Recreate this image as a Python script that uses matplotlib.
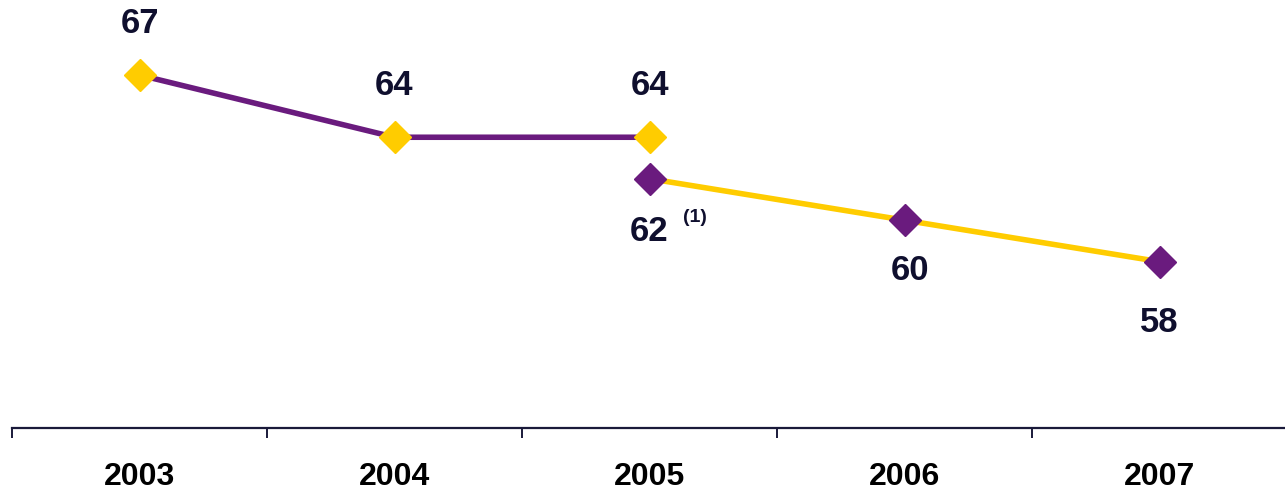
import matplotlib
matplotlib.use("Agg")
import matplotlib.pyplot as plt

years = ["2003", "2004", "2005", "2006", "2007"]
old_basis = [67, 64, 64]        # 2003-2005
new_basis = [62, 60, 58]        # 2005-2007
old_idx = [0, 1, 2]
new_idx = [2, 3, 4]

PURPLE = "#6A1B7E"
YELLOW = "#FFCC00"
NAVY = "#0F0F2E"

plt.rcParams["font.family"] = ["Liberation Sans", "DejaVu Sans"]

fig = plt.figure(figsize=(12.85, 4.92), dpi=100)
ax = fig.add_axes([12 / 1285, 64.5 / 492, 1275 / 1285, 427.5 / 492])

ax.plot(old_idx, old_basis, color=PURPLE, lw=4, marker="D", ms=16,
        mfc=YELLOW, mec=YELLOW, zorder=3, solid_capstyle="butt")
ax.plot(new_idx, new_basis, color=YELLOW, lw=4, marker="D", ms=16,
        mfc=PURPLE, mec=PURPLE, zorder=3, solid_capstyle="butt")

ax.set_xlim(-0.5, 4.5)
ax.set_ylim(50, 70.62)

# value labels: above for the old basis, below for the new basis
for x, v in zip(old_idx, old_basis):
    ax.annotate(str(v), (x, v), xytext=(0, 37), textcoords="offset points",
                ha="center", va="center", fontsize=25, fontweight="bold", color=NAVY)
offsets = [(0, -38), (4, -36), (0, -44)]
for x, v, off in zip(new_idx, new_basis, offsets):
    ax.annotate(str(v), (x, v), xytext=off, textcoords="offset points",
                ha="center", va="center", fontsize=25, fontweight="bold", color=NAVY)
ax.annotate("(1)", (new_idx[0], new_basis[0]), xytext=(33, -28), textcoords="offset points",
            ha="center", va="center", fontsize=14, fontweight="bold", color=NAVY)

for s in ["top", "right", "left"]:
    ax.spines[s].set_visible(False)
ax.spines["bottom"].set_color("#1A1A3A")
ax.spines["bottom"].set_linewidth(1.6)
ax.set_yticks([])

ax.set_xticks([i + 0.5 for i in range(-1, 4)], minor=False)
ax.set_xticklabels([])
ax.tick_params(axis="x", direction="out", length=7, width=1.4, color="#1A1A3A")
ax.set_xticks(range(len(years)), minor=True)
ax.set_xticklabels(years, minor=True, fontsize=23, fontweight="bold", color="black")
ax.tick_params(axis="x", which="minor", length=0, pad=25)

fig.savefig("out.png", dpi=100, facecolor="white")
